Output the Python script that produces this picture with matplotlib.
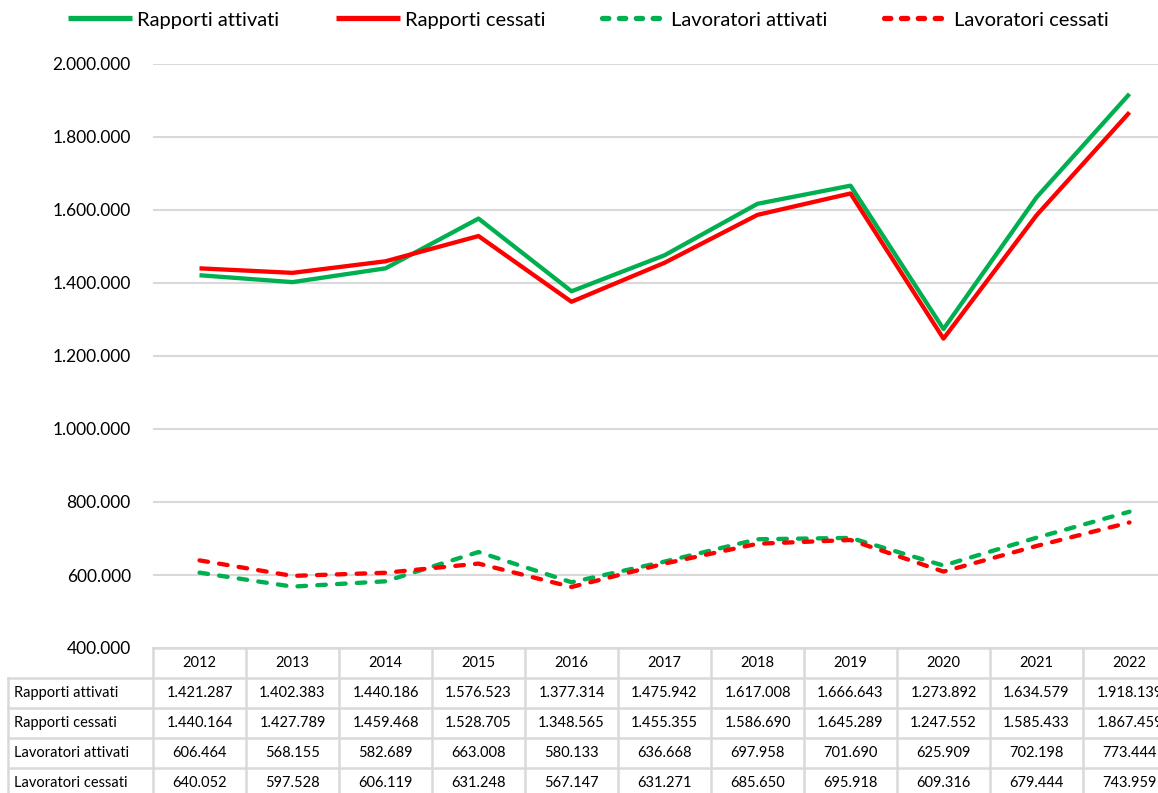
import matplotlib
matplotlib.use("Agg")
import matplotlib.pyplot as plt
import matplotlib.transforms as mtransforms
from matplotlib.lines import Line2D

years = ["2012", "2013", "2014", "2015", "2016", "2017", "2018", "2019", "2020", "2021", "2022"]
rapporti_attivati = [1421287, 1402383, 1440186, 1576523, 1377314, 1475942, 1617008, 1666643, 1273892, 1634579, 1918139]
rapporti_cessati = [1440164, 1427789, 1459468, 1528705, 1348565, 1455355, 1586690, 1645289, 1247552, 1585433, 1867459]
lavoratori_attivati = [606464, 568155, 582689, 663008, 580133, 636668, 697958, 701690, 625909, 702198, 773444]
lavoratori_cessati = [640052, 597528, 606119, 631248, 567147, 631271, 685650, 695918, 609316, 679444, 743959]
series_names = ["Rapporti attivati", "Rapporti cessati", "Lavoratori attivati", "Lavoratori cessati"]
yticks = [400000, 600000, 800000, 1000000, 1200000, 1400000, 1600000, 1800000, 2000000]

GREEN = "#00b050"
RED = "#ff0000"
GRID = "#d9d9d9"
FONT = "Lato"

def fmt(v):
    return f"{v:,}".replace(",", ".")

W, H = 1158, 793
fig = plt.figure(figsize=(W / 100, H / 100), dpi=100)
ax_l, ax_r, ax_t, ax_b = 153, 1176, 64, 648
ax = fig.add_axes([ax_l / W, 1 - ax_b / H, (ax_r - ax_l) / W, (ax_b - ax_t) / H])
x = list(range(len(years)))

DASH = (0, (2.0, 2.6))
styles = [
    (rapporti_attivati, GREEN, "-"),
    (rapporti_cessati, RED, "-"),
    (lavoratori_attivati, GREEN, DASH),
    (lavoratori_cessati, RED, DASH),
]
handles = []
for (vals, col, ls), name in zip(styles, series_names):
    h, = ax.plot(x, vals, color=col, lw=3.1, ls=ls, label=name, solid_capstyle="butt",
                 dash_capstyle="round", zorder=3)
    handles.append(h)

ax.set_xlim(-0.5, len(years) - 0.5)
ax.set_ylim(400000, 2000000)
ax.set_yticks(yticks)
ax.set_yticklabels([fmt(v) for v in yticks], fontfamily=FONT, fontsize=12.5)
ax.tick_params(axis="y", length=0, pad=16)
ax.set_xticks([])
ax.grid(axis="y", color=GRID, lw=1.5)
ax.set_axisbelow(True)
for s in ax.spines.values():
    s.set_visible(False)

# table
rows = [rapporti_attivati, rapporti_cessati, lavoratori_attivati, lavoratori_cessati]
axh = ax_b - ax_t
rh = 30 / axh
trans = mtransforms.blended_transform_factory(ax.transData, ax.transAxes)
xl = -0.5 - 145 / 93
n = len(years)
lkw = dict(color=GRID, lw=1.8, transform=trans, clip_on=False)
for i in range(n + 1):
    xv = -0.5 + i
    ax.add_line(Line2D([xv, xv], [0, -5 * rh - 0.05], **lkw))
ax.add_line(Line2D([xl, xl], [-rh, -5 * rh - 0.05], **lkw))
ax.add_line(Line2D([-0.5, n - 0.5], [0, 0], **lkw))
for r in range(1, 6):
    ax.add_line(Line2D([xl, n - 0.5], [-r * rh, -r * rh], **lkw))
tkw = dict(transform=trans, clip_on=False, fontfamily=FONT, fontsize=10.5, va="center", color="black")
for i, yv in enumerate(years):
    ax.text(i, -0.5 * rh, yv, ha="center", **tkw)
for r, (name, vals) in enumerate(zip(series_names, rows)):
    yc = -(r + 1.5) * rh
    ax.text(xl + 0.06, yc, name, ha="left", **tkw)
    for i, v in enumerate(vals):
        ax.text(i, yc, fmt(v), ha="center", **tkw)

LEG_DASH = (0, (1.2, 2.0))
leg_styles = ["-", "-", LEG_DASH, LEG_DASH]
leg_handles = [Line2D([], [], color=h.get_color(), lw=3.8, ls=ls,
                      dash_capstyle="round", solid_capstyle="butt") for h, ls in zip(handles, leg_styles)]
fig.legend(leg_handles, series_names, loc="center", bbox_to_anchor=(588 / W, 1 - 20 / H), ncol=4,
           frameon=False, prop={"family": FONT, "size": 14.5}, handlelength=3.2, handletextpad=0.25,
           columnspacing=2.8)

fig.savefig("out.png", dpi=100)
